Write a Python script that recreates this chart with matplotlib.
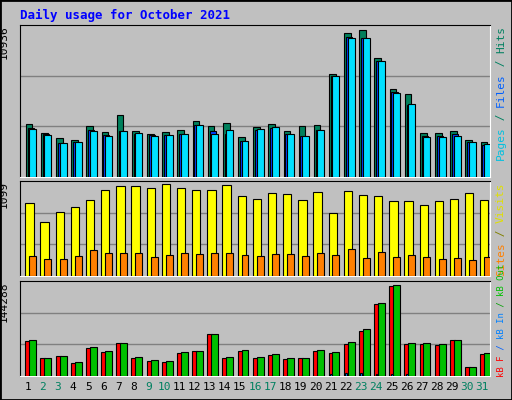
import matplotlib
matplotlib.use("Agg")
import matplotlib.pyplot as plt
import numpy as np

days = list(range(1, 32))
weekend = {2, 3, 9, 10, 16, 17, 23, 24, 30, 31}

hits = [3952, 3285, 2915, 2766, 3804, 3359, 4619, 3433, 3211, 3359, 3507, 4174, 3804, 4026, 2989, 3730,
        3952, 3433, 3804, 3878, 7657, 10696, 10936, 8842, 6546, 6175, 3285, 3285, 3433, 2766, 2618]
files = [3655, 3211, 2544, 2618, 3507, 3137, 3433, 3211, 3137, 3137, 3211, 3878, 3433, 3211, 2692, 3507,
         3655, 3211, 3063, 3507, 7509, 10399, 10325, 8620, 6323, 5360, 3063, 3063, 3211, 2618, 2396]
pages = [3581, 3137, 2544, 2618, 3433, 3063, 3433, 3285, 3063, 3137, 3211, 3878, 3211, 3507, 2692, 3581,
         3729, 3211, 3063, 3507, 7509, 10325, 10325, 8620, 6249, 5434, 2989, 2989, 3063, 2618, 2470]
visits = [872, 644, 764, 824, 908, 1028, 1076, 1076, 1052, 1099, 1052, 1028, 1028, 1088, 956, 920,
          992, 980, 908, 1004, 752, 1016, 968, 956, 896, 896, 848, 896, 920, 992, 908]
sites = [236, 200, 200, 236, 308, 272, 272, 272, 224, 248, 272, 260, 272, 272, 248, 236,
         260, 260, 236, 272, 248, 320, 212, 284, 224, 248, 224, 200, 212, 188, 224]
kb_f = [55819, 28963, 32123, 21064, 44761, 38442, 52660, 28963, 24224, 22644, 36862, 40022, 66878, 28963,
        40022, 28963, 33702, 27383, 28963, 40022, 36862, 51080, 71618, 114272, 142708, 51080, 51080,
        49501, 57399, 14745, 35282]
kb_in = [300, 300, 300, 300, 300, 300, 300, 300, 300, 300, 300, 300, 300, 300, 300, 300,
         300, 300, 300, 300, 2500, 4500, 4500, 3000, 2500, 3000, 300, 300, 300, 300, 300]
kb_out = [57399, 28963, 32123, 22644, 46341, 40022, 52660, 30543, 25803, 24224, 38442, 40022, 66878, 30543,
          41601, 30543, 35282, 28963, 28963, 41601, 38442, 54240, 74777, 115852, 144288, 52660, 52660,
          51080, 57399, 14745, 36862]

BG = "#C0C0C0"
W, H = 512, 400
fig = plt.figure(figsize=(W / 100, H / 100), dpi=100, facecolor=BG)
mono = "DejaVu Sans Mono"

fig.add_artist(plt.Rectangle((0, 0), 1, 1, transform=fig.transFigure, fill=False, ec="black", lw=2))


def panel(y0, y1):
    ax = fig.add_axes([20 / W, 1 - y1 / H, 470 / W, (y1 - y0) / H])
    ax.set_facecolor(BG)
    ax.set_xlim(0, 31)
    ax.set_xticks([])
    ax.set_yticks([])
    for s in ["top", "left"]:
        ax.spines[s].set_color("black")
    for s in ["bottom", "right"]:
        ax.spines[s].set_color("white")
    return ax


def bars(ax, vals, off, w, color):
    x = np.arange(31) + off
    ax.bar(x, vals, width=w, align="edge", color=color, edgecolor="black", linewidth=0.8, zorder=3)


def grid(ax, top):
    for g in (top / 3, 2 * top / 3):
        ax.axhline(g, color="#808080", lw=1, zorder=1)


ax1 = panel(25, 177)
top1 = max(hits) * 152 / 147.3
ax1.set_ylim(0, top1)
grid(ax1, top1)
bars(ax1, hits, 0.38, 0.44, "#00805C")
bars(ax1, files, 0.5, 0.4, "#0040FF")
bars(ax1, pages, 0.61, 0.46, "#00E0FF")

ax2 = panel(181, 276)
top2 = max(visits) * 95 / 91.7
ax2.set_ylim(0, top2)
grid(ax2, top2)
bars(ax2, visits, 0.35, 0.55, "#FFFF00")
bars(ax2, sites, 0.61, 0.46, "#FF8000")

ax3 = panel(281, 376)
top3 = max(kb_out) * 95 / 91.3
ax3.set_ylim(0, top3)
grid(ax3, top3)
bars(ax3, kb_f, 0.35, 0.33, "#FF0000")
bars(ax3, kb_out, 0.61, 0.46, "#00C000")
bars(ax3, kb_in, 0.45, 0.12, "#0080FF")

for ax, lab in [(ax1, "10936"), (ax2, "1099"), (ax3, "144288")]:
    ax.text(-0.035, 1.0, lab, transform=ax.transAxes, rotation=90, ha="center", va="top",
            fontsize=8, family=mono)

for d in days:
    ax3.text(d - 0.5, -0.12, str(d), transform=ax3.get_xaxis_transform(), ha="center", va="center",
             fontsize=8, family=mono, color="#008060" if d in weekend else "black")

fig.text(20 / W, 1 - 15 / H, "Daily usage for October 2021", color="#0000FF", fontsize=9,
         family=mono, fontweight="bold", va="center")


def right_label(ax, parts, y_bottom_px, size):
    # stacked vertical text read bottom to top, placed by character count
    step = size * 0.6 * 100 / 72
    y = y_bottom_px
    for txt, col in parts:
        fig.text(501 / W, 1 - y / H, txt, rotation=90, ha="center", va="bottom",
                 fontsize=size, family=mono, color=col)
        y -= len(txt) * step


right_label(ax1, [("Pages", "#00C0E0"), (" / ", "#008060"), ("Files", "#0060FF"), (" / ", "#008060"), ("Hits", "#008060")], 160, 8)
right_label(ax2, [("Sites", "#FF8000"), (" / ", "#808000"), ("Visits", "#E0E000")], 276, 8)
right_label(ax3, [("kB F", "#FF0000"), (" / ", "#0060FF"), ("kB In", "#0080FF"), (" / ", "#00A000"), ("kB Out", "#00C000")], 377, 6.5)

fig.savefig("out.png", dpi=100, facecolor=BG)
